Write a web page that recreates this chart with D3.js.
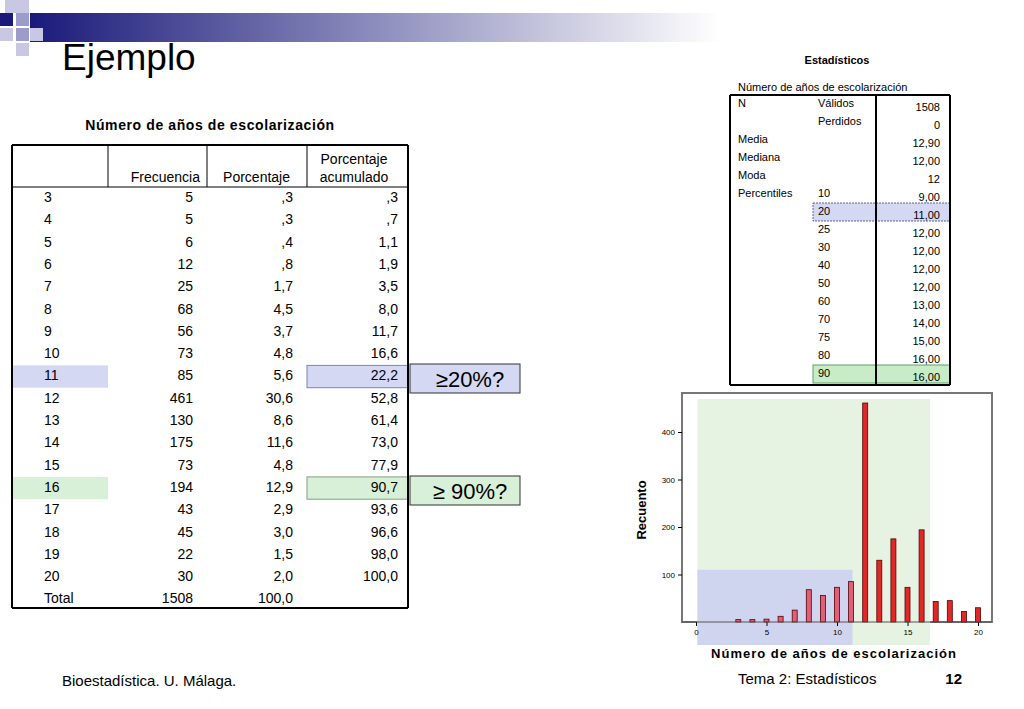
<!DOCTYPE html><html><head><meta charset="utf-8"><script src="https://cdn.jsdelivr.net/npm/d3@7"></script>
<style>body{margin:0;background:#fff}svg{font-family:"Liberation Sans",Arial,sans-serif}</style></head><body>
<svg id="s" width="1024" height="709"></svg>
<script>
const years=[3,4,5,6,7,8,9,10,11,12,13,14,15,16,17,18,19,20];
const freq=[5,5,6,12,25,68,56,73,85,461,130,175,73,194,43,45,22,30];
const pct=[",3",",3",",4",",8","1,7","4,5","3,7","4,8","5,6","30,6","8,6","11,6","4,8","12,9","2,9","3,0","1,5","2,0"];
const cum=[",3",",7","1,1","1,9","3,5","8,0","11,7","16,6","22,2","52,8","61,4","73,0","77,9","90,7","93,6","96,6","98,0","100,0"];
const statLabels=["N","","Media","Mediana","Moda","Percentiles","","","","","","","","",""];
const statSub=["Válidos","Perdidos","","","","10","20","25","30","40","50","60","70","75","80","90"];
const statVals=["1508","0","12,90","12,00","12","9,00","11,00","12,00","12,00","12,00","12,00","13,00","14,00","15,00","16,00","16,00"];
const yTicks=[100,200,300,400];
const xTicks=[0,5,10,15,20];
const svg=d3.select("#s");
const defs=svg.append("defs");
const g=defs.append("linearGradient").attr("id","gr");
g.append("stop").attr("offset",0).attr("stop-color","#1a1a7a");
g.append("stop").attr("offset",1).attr("stop-color","#fff");
svg.append("rect").attr("x",30).attr("y",13).attr("width",690).attr("height",29).attr("fill","url(#gr)");
[[5,0,"#c8c8e4"],[16,0,"#c8c8e4"],[0,13,"#1a1a7a"],[16,13,"#9b9bcc"],[16,28,"#9b9bcc"],[30,28,"#c8c8e4"],[0,28,"#c8c8e4"],[16,43,"#c8c8e4"]].forEach(d=>svg.append("rect").attr("x",d[0]).attr("y",d[1]).attr("width",13).attr("height",13).attr("fill",d[2]));
svg.append("text").attr("x",62).attr("y",70).attr("font-size",37).text("Ejemplo");
const T=svg.append("g").attr("font-size",14);
T.append("text").attr("x",210).attr("y",130).attr("text-anchor","middle").attr("font-weight","bold").attr("font-size",14).attr("letter-spacing",0.6).text("Número de años de escolarización");
const rh=22.3,r0=187;
T.append("rect").attr("x",12).attr("y",r0+8*rh).attr("width",96).attr("height",rh).attr("fill","#d5d8f2");
T.append("rect").attr("x",307).attr("y",r0+8*rh).attr("width",101).attr("height",rh).attr("fill","#d5d8f2").attr("stroke","#8080c0");
T.append("rect").attr("x",12).attr("y",r0+13*rh).attr("width",96).attr("height",rh).attr("fill","#d8f0d8");
T.append("rect").attr("x",307).attr("y",r0+13*rh).attr("width",101).attr("height",rh).attr("fill","#d8f0d8").attr("stroke","#80a080");
T.append("line").attr("x1",12).attr("x2",408).attr("y1",145).attr("y2",145).attr("stroke","#000").attr("stroke-width",2);
T.append("line").attr("x1",12).attr("x2",408).attr("y1",r0).attr("y2",r0).attr("stroke","#000").attr("stroke-width",1);
T.append("line").attr("x1",12).attr("x2",408).attr("y1",608).attr("y2",608).attr("stroke","#000").attr("stroke-width",2);
[12,408].forEach(x=>T.append("line").attr("x1",x).attr("x2",x).attr("y1",145).attr("y2",608).attr("stroke","#000").attr("stroke-width",2));
[108,207,307].forEach(x=>T.append("line").attr("x1",x).attr("x2",x).attr("y1",145).attr("y2",r0).attr("stroke","#000"));
T.append("text").attr("x",200).attr("y",182).attr("text-anchor","end").text("Frecuencia");
T.append("text").attr("x",290).attr("y",182).attr("text-anchor","end").text("Porcentaje");
T.append("text").attr("x",354).attr("y",164).attr("text-anchor","middle").text("Porcentaje");
T.append("text").attr("x",354).attr("y",182).attr("text-anchor","middle").text("acumulado");
const rows=years.map((y,i)=>({l:y,f:freq[i],p:pct[i],c:cum[i]}));
rows.push({l:"Total",f:d3.sum(freq),p:"100,0",c:""});
rows.forEach((d,i)=>{const y=r0+i*rh+15;
T.append("text").attr("x",44).attr("y",y).text(d.l);
T.append("text").attr("x",193).attr("y",y).attr("text-anchor","end").text(d.f);
T.append("text").attr("x",293).attr("y",y).attr("text-anchor","end").text(d.p);
T.append("text").attr("x",398).attr("y",y).attr("text-anchor","end").text(d.c);});
[["≥20%?",364,"#d5d8f2"],["≥ 90%?",476,"#d8f0d8"]].forEach(d=>{
svg.append("rect").attr("x",410).attr("y",d[1]).attr("width",110).attr("height",29).attr("fill",d[2]).attr("stroke","#333");
svg.append("text").attr("x",470).attr("y",d[1]+23).attr("text-anchor","middle").attr("font-size",22).text(d[0]);});
const S=svg.append("g").attr("font-size",11);
S.append("text").attr("x",837).attr("y",64).attr("text-anchor","middle").attr("font-weight","bold").text("Estadísticos");
S.append("text").attr("x",738).attr("y",91).text("Número de años de escolarización");
const sr=18,s0=95;
S.append("rect").attr("x",813).attr("y",s0+6*sr).attr("width",137).attr("height",sr).attr("fill","#d5d8f2").attr("stroke","#6060a0").attr("stroke-dasharray","2,1");
S.append("rect").attr("x",813).attr("y",s0+15*sr).attr("width",137).attr("height",sr).attr("fill","#c8ecc8").attr("stroke","#60a060");
S.append("line").attr("x1",730).attr("x2",950).attr("y1",s0).attr("y2",s0).attr("stroke","#000").attr("stroke-width",2);
[[730,2],[876,2],[950,2]].forEach(d=>S.append("line").attr("x1",d[0]).attr("x2",d[0]).attr("y1",s0).attr("y2",s0+16*sr+2).attr("stroke","#000").attr("stroke-width",d[1]));
S.append("line").attr("x1",730).attr("x2",950).attr("y1",s0+16*sr+2).attr("y2",s0+16*sr+2).attr("stroke","#000").attr("stroke-width",2);
statSub.forEach((s,i)=>{const y=s0+i*sr+12;
if(statLabels[i])S.append("text").attr("x",738).attr("y",y).text(statLabels[i]);
S.append("text").attr("x",818).attr("y",y).text(s);
S.append("text").attr("x",940).attr("y",y+4).attr("text-anchor","end").text(statVals[i]);});
const x=d3.scaleLinear().domain([0,20]).range([696,978]);
const y=d3.scaleLinear().domain([0,400]).range([622,432]);
const C=svg.append("g");
C.append("rect").attr("x",682).attr("y",393).attr("width",310).attr("height",229).attr("fill","#fff").attr("stroke","#777").attr("stroke-width",2);
C.append("rect").attr("x",x(0.1)).attr("y",399).attr("width",x(16.6)-x(0.1)).attr("height",645-399).attr("fill","#e6f3e2");
C.append("rect").attr("x",x(0.1)).attr("y",y(110)).attr("width",x(11.1)-x(0.1)).attr("height",645-y(110)).attr("fill","#d0d5ef");
C.selectAll(".b").data(years).join("rect").attr("x",d=>x(d)-2.5).attr("width",5).attr("y",(d,i)=>y(freq[i])).attr("height",(d,i)=>622-y(freq[i])).attr("fill",d=>d<=11?"#e0607a":"#e02828").attr("stroke","#500").attr("stroke-width",0.8);
C.append("g").attr("transform","translate(0,622)").call(d3.axisBottom(x).tickValues(xTicks).tickSize(4)).call(a=>a.select(".domain").remove()).selectAll("text").attr("font-size",8);
C.append("g").attr("transform","translate(682,0)").call(d3.axisLeft(y).tickValues(yTicks).tickSize(4)).call(a=>a.select(".domain").remove()).selectAll("text").attr("font-size",8);
C.append("line").attr("x1",682).attr("x2",992).attr("y1",622).attr("y2",622).attr("stroke","#555");
C.append("text").attr("x",834).attr("y",658).attr("text-anchor","middle").attr("font-weight","bold").attr("font-size",13).attr("letter-spacing",1).text("Número de años de escolarización");
C.append("text").attr("transform","translate(646,510) rotate(-90)").attr("text-anchor","middle").attr("font-weight","bold").attr("font-size",13).text("Recuento");
svg.append("text").attr("x",62).attr("y",686).attr("font-size",15).text("Bioestadística. U. Málaga.");
svg.append("text").attr("x",738).attr("y",684).attr("font-size",15).text("Tema 2: Estadísticos");
svg.append("text").attr("x",962).attr("y",684).attr("font-size",15).attr("font-weight","bold").attr("text-anchor","end").text("12");
</script></body></html>
